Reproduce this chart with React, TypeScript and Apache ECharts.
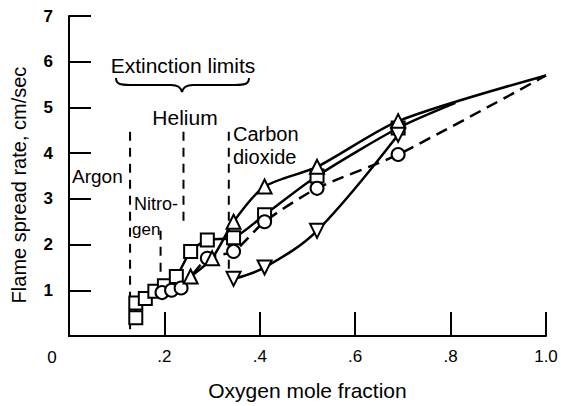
import React, { useEffect, useRef } from "react";
import * as echarts from "echarts";

// ---- data ----
const squareX = [0.14, 0.14, 0.16, 0.18, 0.2, 0.225, 0.255, 0.29, 0.345, 0.41, 0.52, 0.69, 0.81];
const squareY = [0.4, 0.72, 0.82, 0.98, 1.1, 1.3, 1.85, 2.1, 2.15, 2.65, 3.5, 4.55, 5.1];
const circleX = [0.195, 0.215, 0.235, 0.29, 0.345, 0.41, 0.52, 0.69, 1.0];
const circleY = [0.95, 1.0, 1.05, 1.7, 1.85, 2.5, 3.23, 3.97, 5.7];
const triUpX = [0.255, 0.3, 0.345, 0.41, 0.52, 0.69, 1.0];
const triUpY = [1.3, 1.7, 2.5, 3.27, 3.7, 4.7, 5.7];
const triDownX = [0.345, 0.41, 0.52, 0.69];
const triDownY = [1.25, 1.5, 2.3, 4.4];

// extinction limits (vertical dashed lines)
const limitNames = ["Argon", "Nitrogen", "Helium", "Carbon dioxide"];
const limitX = [0.128, 0.192, 0.24, 0.335];
const limitTop = [4.47, 2.3, 4.47, 4.47];
const limitBottom = [0.15, 1.0, 2.4, 1.4];

const xTickLabels = ["0", ".2", ".4", ".6", ".8", "1.0"];
const yTickLabels = ["", "1", "2", "3", "4", "5", "6", "7"];

const FONT = "Liberation Sans, Arial, sans-serif";

echarts.graphic.registerShape(
  "brace",
  echarts.graphic.extendPath(
    "M0,0 C0,6 4,7 14,7 L55,7 C62,7 65,9 66,14 C67,9 70,7 77,7 L119,7 C129,7 133,6 133,0",
    {}
  )
);

function pts(xs: number[], ys: number[], lastBare: boolean) {
  return xs.map((x, i) => {
    if (lastBare && i === xs.length - 1) return { value: [x, ys[i]], symbol: "none" };
    return { value: [x, ys[i]] };
  });
}

export default function App() {
  const ref = useRef<HTMLDivElement>(null);
  useEffect(() => {
    if (!ref.current) return;
    const chart = echarts.init(ref.current, null, { renderer: "svg" });
    const markerStyle = { color: "#fff", borderColor: "#000", borderWidth: 2 };
    const limitSeries = limitX.map((x, i) => ({
      type: "line",
      name: limitNames[i],
      data: [
        [x, limitTop[i]],
        [x, limitBottom[i]],
      ],
      symbol: "none",
      lineStyle: { color: "#000", width: 2, type: [9, 7] },
      z: 1,
    }));
    chart.setOption({
      animation: false,
      textStyle: { fontFamily: FONT },
      grid: { left: 69, right: 15, top: 16, bottom: 67 },
      xAxis: {
        type: "value",
        min: 0,
        max: 1,
        interval: 0.2,
        name: "Oxygen mole fraction",
        nameLocation: "middle",
        nameGap: 44,
        nameTextStyle: { fontSize: 21, color: "#000", fontFamily: FONT },
        axisLine: { lineStyle: { color: "#000", width: 2 } },
        axisTick: { inside: true, length: 24, lineStyle: { color: "#000", width: 2 } },
        splitLine: { show: false },
        axisLabel: {
          color: "#000",
          fontSize: 17,
          margin: 12,
          fontFamily: FONT,
          formatter: (v: number) => {
            const i = Math.round(v / 0.2);
            return i === 0 ? "" : xTickLabels[i];
          },
        },
      },
      yAxis: {
        type: "value",
        min: 0,
        max: 7,
        interval: 1,
        name: "Flame spread rate, cm/sec",
        nameLocation: "middle",
        nameRotate: 90,
        nameGap: 40,
        nameTextStyle: { fontSize: 20, color: "#000", fontFamily: FONT, padding: [0, 18, 0, 0] },
        axisLine: { lineStyle: { color: "#000", width: 2 } },
        axisTick: { inside: true, length: 22, lineStyle: { color: "#000", width: 2 } },
        splitLine: { show: false },
        axisLabel: {
          color: "#000",
          fontSize: 17,
          fontWeight: "bold",
          margin: 16,
          fontFamily: FONT,
          formatter: (v: number) => yTickLabels[Math.round(v)] ?? "",
        },
      },
      series: [
        ...limitSeries,
        {
          type: "line",
          name: "Square",
          data: pts(squareX, squareY, true),
          symbol: "rect",
          symbolSize: 13,
          smooth: 0.25,
          itemStyle: markerStyle,
          lineStyle: { color: "#000", width: 2.5 },
          z: 3,
        },
        {
          type: "line",
          name: "Circle",
          data: pts(circleX, circleY, true),
          symbol: "circle",
          symbolSize: 13,
          smooth: 0.25,
          itemStyle: markerStyle,
          lineStyle: { color: "#000", width: 2.5, type: [12, 7] },
          z: 4,
        },
        {
          type: "line",
          name: "Triangle",
          data: pts(triUpX, triUpY, true),
          symbol: "triangle",
          symbolSize: 14,
          smooth: 0.25,
          itemStyle: markerStyle,
          lineStyle: { color: "#000", width: 2.5 },
          z: 5,
        },
        {
          type: "line",
          name: "Inverted triangle",
          data: pts(triDownX, triDownY, false),
          symbol: "triangle",
          symbolRotate: 180,
          symbolSize: 14,
          smooth: 0.35,
          itemStyle: markerStyle,
          lineStyle: { color: "#000", width: 2.5 },
          z: 5,
        },
      ],
      graphic: [
        { type: "text", x: 183, y: 65, style: { text: "Extinction limits", font: `21px ${FONT}`, fill: "#000", align: "center", verticalAlign: "middle" } },
        { type: "brace", x: 116, y: 78, style: { stroke: "#000", fill: "none", lineWidth: 2 } },
        { type: "text", x: 185, y: 117, style: { text: "Helium", font: `21px ${FONT}`, fill: "#000", align: "center", verticalAlign: "middle" } },
        { type: "text", x: 233, y: 134, style: { text: "Carbon", font: `20px ${FONT}`, fill: "#000", align: "left", verticalAlign: "middle" } },
        { type: "text", x: 233, y: 157, style: { text: "dioxide", font: `20px ${FONT}`, fill: "#000", align: "left", verticalAlign: "middle" } },
        { type: "text", x: 72, y: 176, style: { text: "Argon", font: `19px ${FONT}`, fill: "#000", align: "left", verticalAlign: "middle" } },
        { type: "text", x: 134, y: 204, style: { text: "Nitro-", font: `18px ${FONT}`, fill: "#000", align: "left", verticalAlign: "middle" } },
        { type: "text", x: 132, y: 229, style: { text: "gen", font: `17px ${FONT}`, fill: "#000", align: "left", verticalAlign: "middle" } },
        { type: "text", x: 52, y: 357, style: { text: xTickLabels[0], font: `17px ${FONT}`, fill: "#000", align: "center", verticalAlign: "middle" } },
      ],
    });
    return () => chart.dispose();
  }, []);
  return <div ref={ref} style={{ width: 561, height: 406, position: "absolute", left: 0, top: 0 }} />;
}
